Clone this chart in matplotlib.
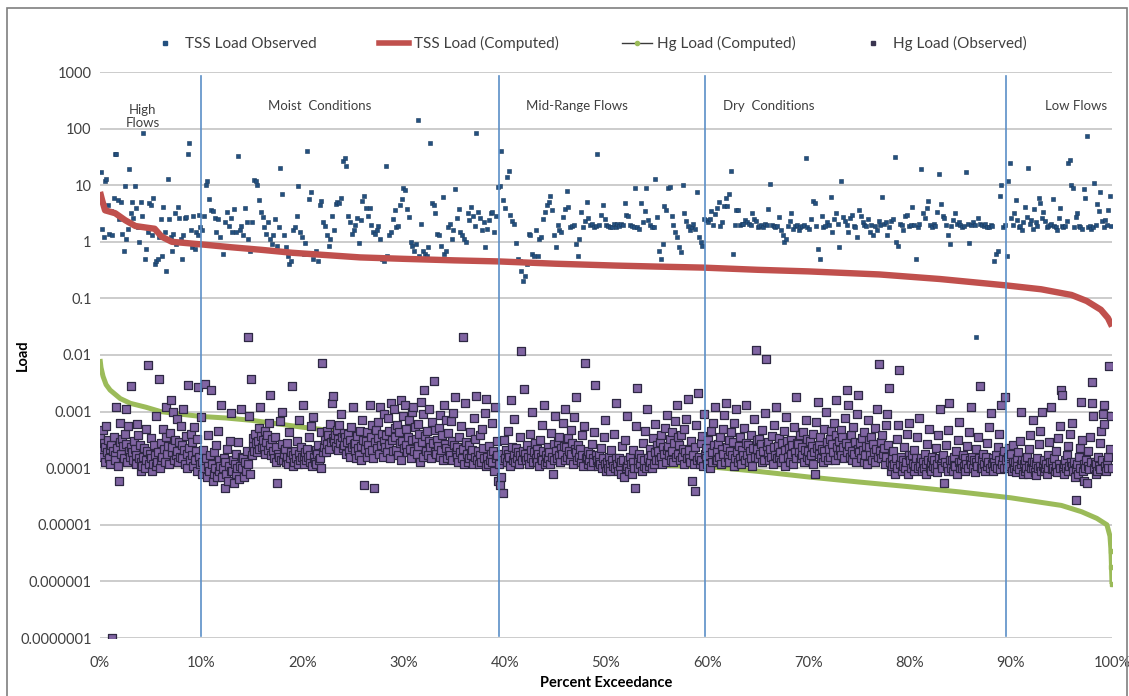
import numpy as np
import matplotlib
matplotlib.use("Agg")
import matplotlib.pyplot as plt
from matplotlib.lines import Line2D
from matplotlib.patches import Rectangle
from matplotlib.ticker import FixedLocator, FixedFormatter, PercentFormatter

plt.rcParams['font.family'] = ['Lato', 'DejaVu Sans']

# ---- flow zones (percent exceedance boundaries) ----
zone_edges = [0.0, 10.0, 39.4, 59.8, 89.5, 100.0]
zone_names = ["High\nFlows", "Moist  Conditions", "Mid-Range Flows", "Dry  Conditions", "Low Flows"]
zone_label_x = [4.2, 21.7, 47.1, 66.1, 96.4]

# ---- computed load duration curves (percent exceedance, load) ----
tss_curve_pct = [0, 0.2, 0.5, 1.5, 2.5, 3.5, 4.4, 5.4, 6.1, 7.1, 10, 13, 16, 19, 22.5, 25.7, 30, 35,
                 39.4, 45, 51, 55, 59.6, 65, 70, 77, 83, 89.5, 93, 96, 97.5, 98.9, 99.6, 100]
tss_curve_load = [7.6, 5.5, 3.6, 3.2, 2.4, 1.9, 1.8, 1.7, 1.23, 1.0, 0.9, 0.8, 0.72, 0.64, 0.58, 0.53,
                  0.5, 0.47, 0.45, 0.41, 0.38, 0.365, 0.35, 0.32, 0.3, 0.265, 0.22, 0.17, 0.145, 0.115,
                  0.09, 0.063, 0.045, 0.032]

hg_curve_pct = [0, 0.1, 0.3, 0.6, 1, 2, 3, 4.5, 6, 8, 10, 12.5, 15, 17.5, 20, 22.5, 25, 27.5, 30, 32.5,
                35, 37.5, 40, 45, 50, 55, 60, 65, 70, 75, 80, 85, 90, 95, 97, 98.5, 99.5, 99.8, 99.9,
                99.95, 100]
hg_curve_load = [0.0085, 0.006, 0.0042, 0.003, 0.0024, 0.0017, 0.0014, 0.0012, 0.001, 0.0009, 0.00082,
                 0.00077, 0.0007, 0.00061, 0.00053, 0.00047, 0.0004, 0.00035, 0.0003, 0.00026, 0.00021,
                 0.00019, 0.00017, 0.000135, 0.00012, 0.000113, 0.000107, 0.000088, 0.00007, 0.000057,
                 0.000047, 0.000038, 0.00003, 0.000022, 0.000017, 0.000013, 0.00001, 0.0000063,
                 0.0000035, 0.0000018, 0.0000009]

# ---- observed TSS loads, in flow-rank order within each zone ----
tss_obs_high = [17, 1.7, 1.2, 12, 13, 4.5, 1.4, 3.5, 1.3, 6, 35, 36, 5.5, 2.5, 5, 1.4,
                0.7, 9.5, 1.1, 1.7, 19, 3.2, 5, 2.6, 9.5, 4, 1.8, 1.0, 5, 2.8, 85,
                0.5, 0.75, 1.5, 4.8, 4.5, 1.3, 6, 0.4, 0.45, 0.5, 1.2, 2.5, 0.55, 4.2, 1.5,
                0.3, 13, 2.5, 1.2, 0.7, 1.4, 3.2, 0.9, 4.2, 2.6, 1.1, 0.5, 1.3,
                2.6, 2.7, 35, 55, 1.6, 0.8, 2.9, 0.75, 1.5, 1.3, 3, 1.8]
tss_obs_moist = [1.6, 2.8, 10, 12, 5.6, 3.7, 3.5, 2.6, 1.5, 2.5, 1.2, 0.85, 0.6, 2.2, 3.4, 1.9,
                 2.6, 1.5, 3.8, 1.5, 33, 1.6, 1.9, 1.3, 4, 2.2, 1.1, 0.7, 2.2, 12.5,
                 12, 10, 5.5, 3.4, 2.7, 1.8, 1.4, 2.2, 1.1, 0.9, 1.3, 2.5, 0.85, 1.8, 20,
                 7, 1.3, 0.8, 0.55, 0.4, 0.45, 1.6, 1.8, 2.8, 9.7, 1.5, 1.2, 0.6, 0.95,
                 40, 5.8, 7.5, 0.5, 0.6, 0.7, 0.45, 4.5, 5.2, 2.2, 1.9, 1.3, 0.85, 1.1, 2.9, 1.6, 4.6, 5,
                 4.8, 6, 27, 30, 22, 2.8, 2.2, 1.4, 1.6, 2, 2.6, 0.95, 2.4, 5.2, 6.4,
                 3.9, 2.8, 4, 2, 1.5, 1.4, 1.6, 1.9, 1.1, 0.5, 0.45, 22, 0.55, 1.3,
                 1.5, 2.5, 3.6, 1.8, 1.9, 4.5, 5.8, 9, 8.3, 3.8, 2.7, 1.0, 0.85, 0.7, 0.9, 140, 0.55, 2.1,
                 0.7, 0.6, 0.55, 0.8, 55, 4.8, 4.5, 3.2, 1.4, 1.3, 0.85, 6.1, 0.6, 0.7, 1.8, 2.1, 1.1, 1.6,
                 8.5, 2.6, 3.8, 1.5, 1.3, 1.1, 1.0, 3.2, 2.4, 4.2, 2.9, 1.9, 85, 3.3, 2.6, 1.6, 2.2, 0.8,
                 1.7, 2.4, 3.2, 3.4, 1.5, 2.8, 9.2]
tss_obs_mid = [9.5, 40, 5.5, 4, 14, 18, 3, 2.3, 2.1,
               0.95, 0.5, 0.45, 0.3, 0.2, 0.25, 0.4, 1.4, 1.3, 0.6,
               0.55, 1.6, 0.55, 1.1, 1.2, 2.5, 3.4, 4.5, 5, 6.5, 3.6, 1.3, 0.8, 2.0, 1.6,
               1.5, 2.7, 3.8, 8, 4.1, 1.8, 1.9, 2.0, 0.9, 0.55, 1.1, 3.4, 1.8, 2.3, 5,
               2.6, 2.0, 2.1, 1.8, 1.9, 35, 2.0, 3.0, 4.4, 2.5, 2.0, 1.9, 1.8, 1.8, 2.1, 1.8,
               2.1, 1.9, 2.1, 2.0, 4.8, 3.0, 2.8, 2.0, 1.9, 1.8, 8.8, 1.8, 1.7, 4.8, 2.2, 3.5, 9, 2.4,
               2.0, 1.8, 1.8, 13, 2.7, 0.7, 0.5, 0.9, 4.3, 3.7, 9, 9.3, 2.9, 2.0, 1.5, 1.2, 0.8, 0.65, 10,
               3.2, 2.3, 1.9, 1.6, 1.8, 2.1, 1.7, 7.5, 1.2, 1.0, 0.85, 2.5]
tss_obs_dry = [2.4, 2.2, 2.5, 3.5, 2.0, 3.1, 4.0, 5.0, 1.9, 2.2, 4.3, 6, 4.3, 7, 18, 0.6, 2.0,
               3.6, 3.6, 2.0, 2.1, 2.1, 2.4, 2.2, 2.1, 2.0, 3.2, 2.5, 2.3, 1.8, 1.9, 2.0, 1.8, 2.1, 2.0,
               3.8, 10.5, 2.0, 1.9, 1.8, 1.9, 2.7, 1.6, 1.3, 1.0, 1.1, 1.9, 2.3, 3.2, 1.7, 1.9, 2.0, 1.6,
               1.8, 1.9, 2.0, 30, 1.8, 1.7, 2.5, 5.3, 4.8, 1.9, 0.75, 0.5, 2.8, 1.8,
               1.9, 2.2, 2.0, 6.2, 1.5, 2.5, 3.2, 2.1, 0.8, 12, 2.7, 2.3, 2.0, 1.5, 2.6, 3, 1.9,
               1.8, 1.2, 3.6, 2.9, 2.2, 2.0, 1.9, 2.5, 1.5,
               2.0, 1.3, 1.9, 1.6, 2.3, 2.0, 6.3, 2.1, 2.2, 1.3, 1.8, 2.3, 2.5, 32, 1.0, 0.85, 2.1, 2.0,
               1.6, 2.8, 3.0, 1.9, 2.0, 4.2, 2.0, 0.5, 1.8, 2.1, 19, 3.2, 2.6, 4, 5.2, 2.0, 1.8, 2.1, 1.9, 3.4,
               16, 4.6, 2.9, 2.6, 2.0, 1.3, 0.9, 1.9, 2.4, 3.2, 2.1, 2.2, 2.0, 1.8, 1.9, 17, 2.1, 0.95, 2.0,
               2.2, 2.0, 0.021, 2.6, 2.1, 2.0, 1.9, 2.1, 1.8, 1.8, 2.0, 1.9, 0.45, 0.6, 0.7, 6.5, 10, 1.8, 2.0]
tss_obs_low = [0.55, 12, 25, 2.6, 2.0, 3.2, 5.5, 2.4, 1.8, 1.9, 1.6, 2.2, 4.2, 2.7, 20,
               2.1, 2.4, 1.7, 3.8, 2.2, 1.9, 6, 4.8, 2.6, 3.4, 2.3, 1.8, 1.9, 2.0, 2.1, 5.8, 1.9, 1.8, 1.6,
               2.6, 4.0, 1.9, 1.8, 1.9, 2.3, 25, 28, 10, 9, 1.8, 2.7, 3.2, 1.9, 1.8, 1.7, 8.5, 6, 75,
               1.8, 1.9, 1.7, 1.8, 11, 2.0, 4.6, 3.5, 7.5, 2.3, 1.8, 2.4, 2.0, 3.7, 6.5, 1.9]

# ---- observed Hg loads (units of 1e-4), in flow-rank order within each zone ----
hg_obs_high = [3.5, 2.1, 1.6, 4.8, 2.8, 1.3, 2.4, 5.5, 1.9, 3.1, 1.5, 2.2,
               1.2, 2.6, 0.001, 2.0, 3.6, 1.7, 1.4, 12, 2.3, 1.1, 0.6, 2.9, 6.2,
               1.8, 3.3, 2.5, 1.5, 4.1, 11, 2.7, 1.3, 5.6, 2.0, 1.6, 28,
               2.4, 1.9, 1.4, 3.0, 2.2, 1.2, 1.7, 6.0, 3.8, 1.5, 2.6, 0.9,
               1.3, 1.1, 1.6, 2.3, 1.0, 1.4, 4.9, 2.0, 66, 1.2, 1.8, 3.4,
               1.5, 0.9, 1.2, 2.6, 1.7, 1.1, 8.5, 1.3, 1.9, 38, 1.0, 1.4,
               2.8, 1.6, 5.0, 2.2, 1.3, 3.5, 12, 1.8, 2.5, 1.2, 4.2, 16,
               1.9, 2.4, 10, 1.4, 3.1, 1.7, 2.0, 7.4, 1.3, 2.9, 1.6, 5.5,
               2.6, 1.5, 11, 2.1, 1.2, 3.7, 1.8, 1.0, 30, 2.3, 1.4, 4.0,
               1.7, 2.9, 1.1, 5.3, 1.4, 2.0, 0.9, 3.3, 27, 1.6, 1.2, 8.0]
hg_obs_moist = [1.3, 0.8, 2.1, 1.0, 31, 1.5, 0.7, 3.8, 1.1, 0.9, 1.7, 24,
                1.2, 0.6, 1.9, 0.8, 1.0, 2.6, 0.7, 4.5, 1.4, 0.9, 1.1, 13,
                0.7, 1.0, 1.5, 0.45, 1.3, 0.8, 2.2, 0.6, 1.1, 3.0, 0.9, 9.5,
                0.9, 1.4, 0.55, 1.2, 1.8, 0.8, 1.0, 2.9, 0.65, 1.1, 11, 1.6,
                1.0, 1.5, 0.7, 1.3, 0.9, 2.0, 210, 1.2, 8.2, 0.8, 38, 1.7,
                2.5, 3.4, 2.0, 4.1, 2.8, 1.9, 3.0, 5.2, 2.2, 12, 3.7, 2.4,
                3.2, 2.3, 4.5, 1.8, 2.9, 3.9, 2.1, 6.3, 2.6, 20, 1.7, 3.3,
                2.0, 1.5, 3.6, 1.3, 2.4, 0.55, 1.8, 1.6, 6.8, 1.4, 2.7, 10,
                1.4, 1.8, 2.2, 1.3, 1.6, 2.8, 1.2, 4.4, 1.5, 1.9, 28, 1.1,
                1.7, 1.3, 2.0, 1.5, 3.0, 1.2, 1.8, 7.1, 1.4, 2.4, 1.6, 13,
                1.5, 1.2, 1.9, 1.4, 2.2, 1.6, 3.5, 1.3, 1.7, 5.6, 1.1, 8.0,
                1.6, 1.3, 2.1, 1.2, 1.8, 2.6, 1.4, 1.5, 4.3, 1.0, 72, 1.9,
                2.4, 3.1, 1.9, 4.6, 2.7, 3.8, 2.2, 6.0, 2.9, 14, 3.4, 19,
                3.0, 3.9, 2.5, 4.8, 2.1, 3.3, 5.7, 2.8, 9.1, 3.6, 2.3, 4.2,
                2.6, 3.5, 1.8, 2.9, 4.0, 2.0, 3.2, 1.6, 5.4, 2.4, 12, 2.7,
                2.0, 2.8, 1.5, 3.7, 2.3, 1.7, 4.6, 2.5, 1.4, 7.0, 3.1, 0.5,
                2.2, 3.0, 1.6, 4.3, 2.6, 1.9, 13, 3.6, 2.1, 5.8, 1.5, 0.45,
                2.9, 4.8, 2.3, 6.5, 3.4, 1.8, 12, 2.6, 4.1, 1.6, 9.2, 3.0,
                2.4, 3.8, 1.9, 7.8, 2.7, 4.6, 1.5, 14, 3.2, 2.0, 11, 5.2,
                3.5, 2.1, 5.9, 1.7, 4.4, 2.8, 16, 1.4, 3.0, 8.3, 2.3, 13,
                2.6, 4.9, 1.9, 3.6, 7.2, 2.2, 1.5, 10, 3.1, 12, 2.0, 5.4,
                3.3, 1.8, 6.1, 2.5, 4.0, 1.3, 15, 2.9, 1.6, 9.0, 24, 3.7,
                2.0, 4.5, 1.7, 3.0, 11, 2.4, 1.5, 6.6, 2.8, 35, 1.9, 4.8,
                1.8, 3.2, 2.5, 5.1, 1.6, 8.7, 2.1, 3.9, 1.4, 13, 2.7, 7.0,
                2.3, 1.5, 4.2, 2.0, 1.7, 6.8, 3.0, 1.4, 9.6, 2.6, 18, 1.9,
                1.6, 2.4, 1.3, 3.5, 1.9, 5.6, 1.5, 2.2, 210, 1.2, 14, 2.9,
                1.8, 1.3, 2.6, 1.5, 4.4, 1.7, 2.1, 1.2, 7.8, 1.6, 3.3, 19,
                1.4, 2.0, 1.2, 3.8, 1.7, 1.3, 5.0, 2.3, 1.5, 9.4, 1.1, 17,
                1.6, 1.2, 2.5, 1.4, 1.8, 6.2, 1.3, 2.0, 0.9, 12, 1.5, 3.0, 1.7, 0.6]
hg_obs_mid = [1.2, 0.5, 0.7, 1.8, 1.4, 0.36, 3.2,
              1.5, 2.1, 1.3, 1.8, 4.6, 1.6, 1.1, 16, 2.4, 1.4, 7.4, 1.7,
              1.3, 2.3, 1.5, 1.9, 1.2, 3.5, 1.7, 116, 1.4, 2.0, 25, 1.6,
              1.8, 1.4, 2.6, 1.6, 1.2, 4.0, 2.1, 1.5, 9.8, 1.3, 1.9, 2.8,
              1.5, 2.2, 1.3, 1.8, 1.1, 3.1, 1.6, 5.7, 1.4, 2.0, 13, 1.2,
              1.7, 1.3, 2.4, 1.5, 1.9, 1.2, 4.2, 1.6, 0.8, 2.7, 1.4, 8.5,
              2.0, 1.5, 2.9, 1.7, 3.6, 1.3, 2.3, 1.8, 6.3, 2.5, 11, 1.4,
              2.4, 1.6, 3.4, 2.0, 1.4, 4.8, 1.8, 2.8, 1.2, 7.9, 2.2, 18,
              1.9, 1.4, 2.6, 1.6, 2.2, 1.3, 3.9, 1.7, 1.1, 5.5, 72, 1.5,
              1.6, 1.2, 2.0, 1.4, 1.8, 1.1, 2.7, 1.5, 1.3, 4.3, 30, 1.7,
              1.4, 1.1, 1.7, 1.3, 1.2, 2.3, 1.0, 1.5, 3.6, 1.2, 7.0, 0.9,
              1.3, 1.0, 1.6, 1.2, 0.9, 2.1, 1.4, 1.1, 4.0, 1.0, 14, 1.5,
              1.2, 0.9, 1.5, 1.1, 1.3, 0.8, 2.5, 1.4, 0.7, 3.2, 1.0, 8.2,
              1.1, 1.4, 0.9, 1.6, 1.2, 0.8, 1.3, 2.1, 1.0, 0.45, 5.5, 26,
              1.3, 1.0, 1.8, 1.2, 1.5, 0.9, 2.8, 1.1, 1.4, 4.6, 1.0, 11,
              1.5, 1.1, 2.2, 1.3, 1.7, 1.0, 3.4, 1.2, 1.9, 6.0, 1.4, 2.6,
              2.0, 1.4, 2.9, 1.6, 3.8, 1.2, 2.4, 1.8, 5.2, 1.3, 8.6, 2.1,
              2.5, 1.7, 3.3, 1.4, 4.4, 2.0, 1.3, 2.8, 6.9, 1.6, 13, 3.6,
              1.8, 2.6, 1.4, 3.9, 1.6, 2.2, 1.2, 4.9, 1.9, 7.5, 1.5, 17,
              1.5, 2.1, 1.3, 3.0, 0.6, 1.7, 1.2, 0.4, 2.4, 5.8, 1.4, 21,
              1.6, 1.2, 2.8, 1.4, 3.7, 1.1, 9.0, 1.8]
hg_obs_dry = [1.5, 2.3, 1.2, 3.1, 1.7, 1.0, 4.5, 1.9, 1.3, 6.4, 2.6, 12, 1.4,
              2.0, 1.4, 2.7, 1.6, 3.5, 1.2, 2.2, 5.0, 1.8, 8.8, 1.3, 14,
              2.4, 1.6, 3.2, 1.3, 2.0, 4.4, 1.7, 2.9, 1.1, 6.2, 1.5, 11,
              1.9, 1.3, 2.5, 1.5, 3.6, 1.2, 2.1, 1.7, 5.1, 1.4, 13, 2.8,
              1.7, 2.6, 1.3, 2.0, 1.5, 3.9, 1.1, 2.3, 7.3, 1.6, 121, 3.1,
              2.2, 1.5, 3.3, 1.8, 2.7, 1.3, 4.8, 2.0, 1.4, 9.6, 86, 2.5,
              1.8, 2.9, 1.4, 2.2, 1.6, 3.7, 1.2, 2.4, 5.9, 1.7, 12, 1.5,
              2.5, 1.6, 3.4, 1.9, 1.3, 2.8, 1.5, 4.6, 2.1, 1.1, 8.0, 3.0,
              1.6, 2.3, 1.3, 3.1, 1.8, 2.6, 1.2, 5.3, 1.9, 18, 1.5, 2.8,
              2.7, 1.9, 3.8, 1.5, 2.4, 1.7, 4.3, 1.3, 2.1, 7.1, 1.6, 3.3,
              2.0, 1.4, 3.0, 1.7, 2.5, 1.2, 4.0, 1.9, 0.8, 6.6, 2.3, 15,
              2.6, 1.8, 3.6, 1.5, 2.2, 1.3, 4.9, 2.0, 1.6, 10, 2.9, 1.4,
              2.2, 3.3, 1.6, 4.5, 2.7, 1.9, 6.2, 1.4, 3.8, 16, 2.4, 1.7,
              3.0, 2.1, 4.7, 1.7, 3.5, 2.4, 1.5, 7.7, 2.8, 24, 1.9, 13,
              2.5, 1.6, 3.9, 2.0, 1.4, 5.4, 1.8, 2.9, 1.3, 9.2, 2.2, 20,
              1.9, 2.8, 1.5, 3.4, 2.1, 1.3, 4.4, 1.7, 2.5, 1.2, 7.0, 3.1,
              2.4, 1.7, 3.5, 1.4, 2.7, 1.9, 5.1, 1.3, 2.2, 11, 1.6, 70,
              2.0, 2.9, 1.5, 3.8, 1.8, 2.3, 1.2, 5.8, 1.6, 9.0, 2.6, 26,
              1.3, 0.9, 1.6, 1.1, 2.0, 1.2, 0.8, 1.5, 3.3, 1.0, 5.9, 54,
              1.2, 1.6, 0.9, 1.4, 1.1, 2.4, 1.0, 1.3, 4.1, 0.8, 1.7, 6.3,
              1.4, 1.0, 1.7, 1.2, 0.9, 2.1, 1.1, 1.5, 3.6, 1.0, 7.6, 1.3,
              1.1, 1.5, 0.9, 1.3, 1.0, 1.8, 1.2, 0.8, 2.7, 1.4, 5.0, 1.0,
              1.3, 0.9, 1.6, 1.1, 1.4, 1.0, 2.3, 1.2, 0.85, 3.9, 1.5, 11,
              1.2, 1.5, 1.0, 1.7, 0.55, 1.3, 2.6, 1.1, 4.8, 0.9, 14, 1.4,
              1.0, 1.4, 0.9, 1.2, 1.6, 1.1, 2.0, 0.8, 3.1, 1.3, 6.5, 1.0,
              1.3, 1.0, 1.7, 1.1, 0.9, 1.5, 1.2, 2.5, 1.0, 4.4, 1.4, 12,
              1.2, 1.6, 1.0, 1.4, 0.85, 1.3, 2.2, 1.1, 3.5, 1.5, 28, 1.0,
              1.4, 1.0, 1.8, 1.2, 0.9, 1.6, 1.1, 2.8, 1.3, 5.3, 1.0, 9.5,
              1.2, 1.5, 0.9, 1.3, 1.1, 1.7, 1.0, 2.4, 1.4, 4.0, 0.95, 13, 1.2, 1.6, 1.0, 2.0, 18]
hg_obs_low = [1.4, 1.0, 1.6, 1.2, 2.3, 1.1, 1.8, 0.9, 2.6, 1.3,
              1.0, 1.3, 0.85, 1.5, 1.1, 1.9, 0.95, 3.0, 1.2, 9.8, 1.4, 0.8,
              1.2, 0.9, 1.4, 1.0, 1.6, 0.8, 2.2, 1.1, 3.8, 1.0, 1.3, 7.0,
              1.0, 1.3, 0.85, 1.2, 0.75, 1.5, 1.0, 2.7, 1.1, 4.6, 0.9, 10,
              1.1, 0.9, 1.4, 1.0, 1.2, 0.8, 1.7, 1.0, 2.9, 1.3, 12, 0.95,
              1.3, 1.0, 1.5, 0.9, 1.1, 2.0, 0.85, 3.4, 1.2, 5.5, 1.0, 24, 20,
              1.0, 1.2, 0.8, 1.4, 1.0, 1.7, 0.9, 2.5, 1.1, 4.0, 1.3, 6.2,
              1.1, 0.9, 1.3, 0.7, 1.0, 0.27, 1.2, 0.8, 1.6, 1.0, 2.3, 15, 3.2,
              0.9, 1.2, 0.6, 1.0, 1.4, 0.55, 1.1, 2.0, 0.95, 3.6, 1.3, 33, 14, 8.5,
              1.0, 1.3, 0.8, 1.2, 0.9, 1.6, 1.1, 2.8, 0.95, 4.5, 1.4, 9, 13, 6,
              1.1, 0.9, 1.3, 1.0, 1.6, 65, 2.2, 8.5, 1.0]

HG_UNIT = 1e-4

y_ticks = [1e-7, 1e-6, 1e-5, 1e-4, 1e-3, 1e-2, 1e-1, 1, 10, 100, 1000]
y_tick_labels = ["0.0000001", "0.000001", "0.00001", "0.0001", "0.001", "0.01", "0.1",
                 "1", "10", "100", "1000"]


def rank_positions(values, lo, hi):
    """Percent exceedance of each record, spread by rank across its zone."""
    n = len(values)
    return lo + (hi - lo) * (np.arange(n) + 0.5) / n


def zone_series(zone_lists, scale=1.0):
    xs, ys = [], []
    for i, vals in enumerate(zone_lists):
        xs.append(rank_positions(vals, zone_edges[i], zone_edges[i + 1]))
        ys.append(np.asarray(vals, dtype=float) * scale)
    return np.concatenate(xs) / 100.0, np.concatenate(ys)


tss_x, tss_y = zone_series([tss_obs_high, tss_obs_moist, tss_obs_mid, tss_obs_dry, tss_obs_low])
hg_x, hg_y = zone_series([hg_obs_high, hg_obs_moist, hg_obs_mid, hg_obs_dry, hg_obs_low], HG_UNIT)

fig = plt.figure(figsize=(11.29, 6.96), dpi=100)
ax = fig.add_axes([100 / 1129, 1 - 638 / 696, 1012 / 1129, 566 / 696])

c_tss_obs = "#23507f"
c_tss_comp = "#c0504d"
c_hg_comp = "#9bbb59"
c_hg_obs = "#8064a2"
c_hg_edge = "#2e2843"
c_zone = "#5b8fc7"

ax.scatter(tss_x, tss_y, marker="s", s=11, facecolor=c_tss_obs, edgecolor="#1a3a5e",
           linewidths=0.4, zorder=3)
ax.plot(np.array(tss_curve_pct) / 100, tss_curve_load, color=c_tss_comp, lw=4.6,
        solid_capstyle="butt", zorder=4)
ax.plot(np.array(hg_curve_pct) / 100, hg_curve_load, color=c_hg_comp, lw=3.6,
        solid_capstyle="butt", zorder=4)
ax.plot(np.array(hg_curve_pct[-3:]) / 100, hg_curve_load[-3:], ls="none", marker="s",
        ms=3, color=c_hg_comp, zorder=4)
ax.scatter(hg_x, hg_y, marker="s", s=28, facecolor=c_hg_obs, edgecolor=c_hg_edge,
           linewidths=0.9, zorder=5)

for edge in zone_edges[1:-1]:
    ax.axvline(edge / 100, ymin=0.003, ymax=0.993, color=c_zone, lw=1.2, zorder=6)

for name, xl in zip(zone_names, zone_label_x):
    yl = 165 if "\n" in name else 250
    ax.text(xl / 100, yl, name, ha="center", va="center", fontsize=9.5, color="#404040",
            linespacing=1.15, zorder=7)

ax.set_yscale("log")
ax.set_ylim(1e-7, 1e3)
ax.set_xlim(0, 1)
ax.yaxis.set_major_locator(FixedLocator(y_ticks))
ax.yaxis.set_major_formatter(FixedFormatter(y_tick_labels))
ax.yaxis.set_minor_locator(FixedLocator([]))
ax.xaxis.set_major_locator(FixedLocator(np.arange(0, 1.01, 0.1)))
ax.xaxis.set_major_formatter(PercentFormatter(1.0, decimals=0))
ax.tick_params(axis="both", length=0, labelsize=10.5, colors="#404040")
ax.tick_params(axis="x", pad=13)
ax.tick_params(axis="y", pad=6)
ax.grid(axis="y", color="#bfbfbf", lw=1.1)
ax.set_axisbelow(True)
for s in ax.spines.values():
    s.set_visible(False)

ax.set_ylabel("Load", fontsize=10.5, fontweight="bold")
ax.yaxis.set_label_coords(-70 / 1012, 0.5)
ax.set_xlabel("Percent Exceedance", fontsize=10.5, fontweight="bold", labelpad=4)

handles = [
    Line2D([], [], ls="none", marker="s", ms=3, color=c_tss_obs),
    Line2D([], [], color=c_tss_comp, lw=4),
    Line2D([], [], color="#3a3a3a", lw=1.0, marker="o", ms=3, markerfacecolor=c_hg_comp,
           markeredgecolor=c_hg_comp),
    Line2D([], [], ls="none", marker="s", ms=3.5, markerfacecolor="#3a3550",
           markeredgecolor="#3a3550"),
]
labels = ["TSS Load Observed", "TSS Load (Computed)", "Hg Load (Computed)", "Hg Load (Observed)"]
fig.legend(handles, labels, loc="center", bbox_to_anchor=(0.521, 0.937), ncol=4, frameon=False,
           fontsize=11, handlelength=2.0, handletextpad=0.3, columnspacing=4.1,
           labelcolor="#404040")

fig.patches.append(Rectangle((7 / 1129, -0.02), 1120 / 1129, 1.02 - 8 / 696,
                             transform=fig.transFigure, fill=False, edgecolor="#7f7f7f", lw=1.2))

fig.savefig("out.png", dpi=100)
